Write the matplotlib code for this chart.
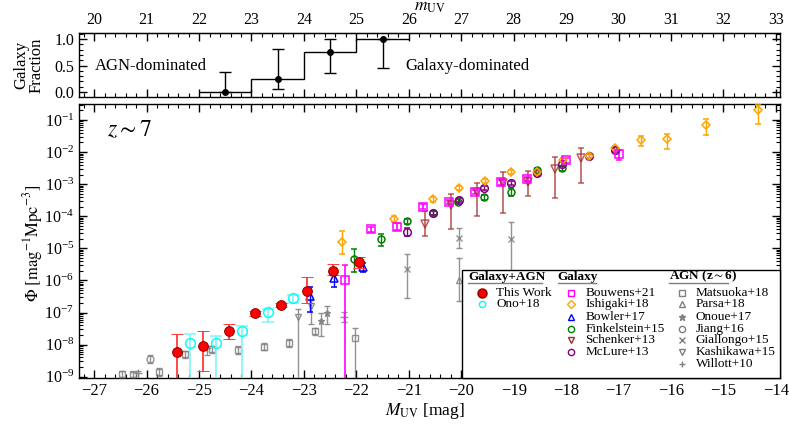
import numpy as np
import matplotlib
matplotlib.use("Agg")
import matplotlib.pyplot as plt
from matplotlib.patches import Rectangle
from matplotlib.ticker import MultipleLocator, LogLocator, NullFormatter

plt.rcParams['font.family'] = ['Liberation Serif', 'DejaVu Serif']
plt.rcParams['mathtext.fontset'] = 'stix'
plt.rcParams['axes.unicode_minus'] = True

# ---- data (M_UV, log10 Phi, lower / upper bound of error bar in log10) ----
# values below -9.03 mean the bar runs off the bottom of the axis
this_M = [-25.42, -24.92, -24.42, -23.94, -23.43, -22.94, -22.44, -21.95]
this_lg = [-8.23, -8.04, -7.59, -7.02, -6.76, -6.32, -5.69, -5.44]
this_lo = [-10.0, -8.81, -7.83, -7.11, -6.83, -6.69, -5.83, -5.62]
this_hi = [-7.68, -7.59, -7.37, -6.94, -6.69, -5.90, -5.49, -5.28]

ono_M = [-25.17, -24.68, -24.18, -23.68, -23.20]
ono_lg = [-7.94, -7.96, -7.56, -6.99, -6.56]
ono_lo = [-10.0, -10.0, -10.0, -7.28, -6.69]
ono_hi = [-7.68, -7.73, -7.42, -6.90, -6.45]

bouwens_M = [-22.22, -21.72, -21.22, -20.73, -20.24, -19.73, -19.24, -18.74, -18.01, -16.99]
bouwens_lg = [-5.98, -4.40, -4.32, -3.70, -3.54, -3.23, -2.94, -2.84, -2.25, -2.07]
bouwens_lo = [-10.0, -4.49, -4.43, -3.78, -3.61, -3.30, -3.01, -2.91, -2.33, -2.25]
bouwens_hi = [-5.52, -4.32, -4.22, -3.63, -3.48, -3.17, -2.88, -2.78, -2.18, -1.93]

ishigaki_M = [-22.28, -21.29, -20.54, -20.05, -19.55, -19.05, -18.56, -18.05, -17.56,
              -17.07, -16.58, -16.08, -15.34, -14.34]
ishigaki_lg = [-4.81, -4.09, -3.47, -3.13, -2.90, -2.63, -2.63, -2.25, -2.12,
               -1.88, -1.62, -1.60, -1.16, -0.69]
ishigaki_lo = [-5.17, -4.19, -3.55, -3.19, -2.96, -2.69, -2.69, -2.31, -2.18,
               -1.94, -1.80, -1.90, -1.47, -1.13]
ishigaki_hi = [-4.46, -4.00, -3.40, -3.07, -2.84, -2.57, -2.57, -2.19, -2.06,
               -1.82, -1.49, -1.45, -0.98, -0.53]

bowler_M = [-22.88, -22.43, -21.88]
bowler_lg = [-6.48, -5.93, -5.57]
bowler_lo = [-6.97, -6.21, -5.74]
bowler_hi = [-6.21, -5.79, -5.45]

finkelstein_M = [-22.04, -21.53, -21.04, -20.54, -20.06, -19.56, -19.06, -18.56, -18.07]
finkelstein_lg = [-5.33, -4.72, -4.16, -3.89, -3.54, -3.41, -3.23, -2.56, -2.51]
finkelstein_lo = [-5.73, -4.93, -4.25, -3.96, -3.61, -3.48, -3.37, -2.64, -2.60]
finkelstein_hi = [-5.01, -4.55, -4.08, -3.82, -3.47, -3.34, -3.11, -2.49, -2.43]

schenker_M = [-20.69, -20.20, -19.70, -19.21, -18.72, -18.21, -17.72]
schenker_lg = [-4.24, -3.66, -3.24, -2.97, -2.94, -2.53, -2.17]
schenker_lo = [-4.60, -4.40, -3.98, -3.91, -3.36, -3.44, -2.95]
schenker_hi = [-3.83, -3.31, -2.97, -2.63, -2.59, -2.16, -1.86]

mclure_M = [-21.04, -20.54, -20.05, -19.56, -19.06, -18.56, -18.07, -17.56, -17.07]
mclure_lg = [-4.48, -3.89, -3.49, -3.11, -2.95, -2.66, -2.37, -2.11, -1.93]
mclure_lo = [-4.62, -3.95, -3.55, -3.17, -3.01, -2.73, -2.43, -2.17, -2.00]
mclure_hi = [-4.36, -3.83, -3.43, -3.05, -2.89, -2.59, -2.31, -2.05, -1.86]

matsuoka_M = [-26.46, -26.26, -25.76, -25.27, -24.76, -24.26, -23.77, -23.28, -22.78, -22.03]
matsuoka_lg = [-8.90, -8.93, -8.84, -8.30, -8.14, -8.17, -8.06, -7.94, -7.59, -7.78]
matsuoka_lo = [-9.00, -9.02, -8.98, -8.42, -8.25, -8.30, -8.16, -8.08, -7.70, -10.0]
matsuoka_hi = [-8.82, -8.86, -8.72, -8.20, -8.04, -8.04, -7.96, -7.82, -7.49, -7.49]

parsa_M = [-20.05]
parsa_lg = [-5.98]
parsa_lo = [-6.63]
parsa_hi = [-5.31]

onoue_M = [-22.68, -22.56]
onoue_lg = [-7.25, -7.00]
onoue_lo = [-7.73, -7.36]
onoue_hi = [-7.00, -6.81]

jiang_M = [-25.93]
jiang_lg = [-8.45]
jiang_lo = [-8.58]
jiang_hi = [-8.32]

giallongo_M = [-21.04, -20.05, -19.05]
giallongo_lg = [-5.65, -4.67, -4.71]
giallongo_lo = [-6.56, -5.00, -6.20]
giallongo_hi = [-5.17, -4.37, -4.17]

kashikawa_M = [-23.12, -22.87]
kashikawa_lg = [-7.13, -6.79]
kashikawa_lo = [-10.0, -7.36]
kashikawa_hi = [-6.90, -6.60]

willott_M = [-26.17, -24.85, -22.24]
willott_lg = [-8.88, -8.12, -7.14]
willott_lo = [-10.0, -8.32, -7.30]
willott_hi = [-8.82, -8.03, -6.99]

# galaxy fraction (top panel), in apparent magnitude
frac_edges_m = [22, 23, 24, 25, 26]
frac_vals = [0.0, 0.25, 0.75, 1.0]
frac_pts_m = [22.5, 23.5, 24.5, 25.5]
frac_pts = [0.0, 0.25, 0.75, 1.0]
frac_lo = [0.0, 0.05, 0.35, 0.45]
frac_hi = [0.38, 0.82, 1.0, 1.0]

dist_mod = 47.0  # m_UV = M_UV + 47


def draw(ax, M, lg, lo, hi, **kw):
    phi = 10.0 ** np.asarray(lg)
    err = [phi - 10.0 ** np.asarray(lo), 10.0 ** np.asarray(hi) - phi]
    ax.errorbar(M, phi, yerr=err, linestyle='none', **kw)


fig = plt.figure(figsize=(7.89, 4.25), dpi=100)
ax = fig.add_axes([0.1001, 0.1113, 0.8885, 0.6433])
axt = fig.add_axes([0.1001, 0.7725, 0.8885, 0.1491], sharex=ax)

grey = dict(color='grey', alpha=0.85, capsize=2.5, elinewidth=1, mew=1, ms=5, mfc='none')

draw(ax, matsuoka_M, matsuoka_lg, matsuoka_lo, matsuoka_hi, marker='s', zorder=3, **grey)
draw(ax, parsa_M, parsa_lg, parsa_lo, parsa_hi, marker='^', zorder=3, **grey)
draw(ax, onoue_M, onoue_lg, onoue_lo, onoue_hi, marker='*', zorder=3,
     **{**grey, 'mfc': 'grey'})
draw(ax, jiang_M, jiang_lg, jiang_lo, jiang_hi, marker='o', zorder=3, **grey)
draw(ax, giallongo_M, giallongo_lg, giallongo_lo, giallongo_hi, marker='x', zorder=3, **grey)
draw(ax, kashikawa_M, kashikawa_lg, kashikawa_lo, kashikawa_hi, marker='v', zorder=3, **grey)
draw(ax, willott_M, willott_lg, willott_lo, willott_hi, marker='+', zorder=3,
     **{**grey, 'ms': 6})

draw(ax, schenker_M, schenker_lg, schenker_lo, schenker_hi, marker='v', color='brown',
     alpha=0.75, ms=5.5, mfc='none', mew=1.1, capsize=2.5, elinewidth=1.2, zorder=4)
draw(ax, finkelstein_M, finkelstein_lg, finkelstein_lo, finkelstein_hi, marker='o',
     color='green', ms=5, mfc='none', mew=1.1, capsize=2.5, elinewidth=1, zorder=4)
draw(ax, mclure_M, mclure_lg, mclure_lo, mclure_hi, marker='o', color='purple',
     ms=5.5, mfc='none', mew=1.1, capsize=2.5, elinewidth=1, zorder=4)
draw(ax, ishigaki_M, ishigaki_lg, ishigaki_lo, ishigaki_hi, marker='D', color='orange',
     ms=4.5, mfc='none', mew=1.1, capsize=2.5, elinewidth=1, zorder=4)
draw(ax, bouwens_M, bouwens_lg, bouwens_lo, bouwens_hi, marker='s', color='magenta',
     ms=5.5, mfc='none', mew=1.1, capsize=2.5, elinewidth=1.2, zorder=4)
draw(ax, bowler_M, bowler_lg, bowler_lo, bowler_hi, marker='^', color='blue',
     ms=5.5, mfc='none', mew=1.1, capsize=2.5, elinewidth=1, zorder=5)
draw(ax, ono_M, ono_lg, ono_lo, ono_hi, marker='o', color='cyan', ecolor='#7ff5f5',
     ms=7, mfc='none', mew=1.1, capsize=4, elinewidth=1.2, zorder=5)
draw(ax, this_M, this_lg, this_lo, this_hi, marker='o', color='red', ecolor='#ff3a3a',
     ms=7, mec='#8b0000', mew=0.7, capsize=4, elinewidth=1.3, zorder=6)

ax.set_yscale('log')
ax.set_xlim(-27.29, -13.92)
ax.set_ylim(10 ** -9.03, 10 ** -0.51)
ax.xaxis.set_major_locator(MultipleLocator(1))
ax.xaxis.set_minor_locator(MultipleLocator(0.2))
ax.yaxis.set_major_locator(LogLocator(base=10, numticks=20))
ax.yaxis.set_minor_locator(LogLocator(base=10, subs=np.arange(2, 10), numticks=20))
ax.yaxis.set_minor_formatter(NullFormatter())
ax.tick_params(which='both', direction='in', top=True, right=True)
ax.tick_params(axis='x', labelsize=12)
ax.tick_params(axis='y', labelsize=11.5)
ax.tick_params(which='major', length=6, width=1)
ax.tick_params(which='minor', length=3, width=0.8)
ax.set_xlabel(r'$M_{\rm UV}$ [mag]', fontsize=12.5)
ax.xaxis.set_label_coords(0.494, -0.085)
ax.set_ylabel(r'$\Phi\ [\mathrm{mag}^{-1}\mathrm{Mpc}^{-3}]$', fontsize=12)
ax.yaxis.set_label_coords(-0.049, 0.49)
ax.text(0.04, 0.905, r'$z\sim7$', transform=ax.transAxes, fontsize=17, va='center')

# ---- hand-made legend box ----
ax.add_patch(Rectangle((0.547, 0.0), 0.453, 0.394, transform=ax.transAxes,
                       facecolor='white', edgecolor='black', lw=1, zorder=10, clip_on=False))
heads = [('Galaxy+AGN', 0.555, 0.661), ('Galaxy', 0.683, 0.737), (r'AGN (z$\sim$6)', 0.842, 0.926)]
for txt, x0, x1 in heads:
    ax.text(x0, 0.370, txt, transform=ax.transAxes, fontsize=9.5, fontweight='bold',
            va='center', ha='left', zorder=12)
    ax.plot([x0, x1], [0.345, 0.345], transform=ax.transAxes, color='grey', lw=1,
            zorder=12, clip_on=False)

rows = [0.311, 0.268, 0.223, 0.179, 0.138, 0.095, 0.049]
entries = [
    (0.5745, 0.595, [('This Work', 'o', 'red', 'red'), ('Ono+18', 'o', 'cyan', 'none')]),
    (0.7019, 0.722, [('Bouwens+21', 's', 'magenta', 'none'), ('Ishigaki+18', 'D', 'orange', 'none'),
                     ('Bowler+17', '^', 'blue', 'none'), ('Finkelstein+15', 'o', 'green', 'none'),
                     ('Schenker+13', 'v', 'brown', 'none'), ('McLure+13', 'o', 'purple', 'none')]),
    (0.8598, 0.880, [('Matsuoka+18', 's', 'grey', 'none'), ('Parsa+18', '^', 'grey', 'none'),
                     ('Onoue+17', '*', 'grey', 'grey'), ('Jiang+16', 'o', 'grey', 'none'),
                     ('Giallongo+15', 'x', 'grey', 'none'), ('Kashikawa+15', 'v', 'grey', 'none'),
                     ('Willott+10', '+', 'grey', 'none')]),
]
for xm, xt, items in entries:
    for yy, (name, mk, col, fc) in zip(rows, items):
        ms = 6.5 if name == 'This Work' else 4.5
        mec = '#8b0000' if name == 'This Work' else col
        ax.plot([xm], [yy], marker=mk, ms=ms, color=col, mfc=fc, mec=mec, mew=1,
                transform=ax.transAxes, clip_on=False, zorder=12, linestyle='none')
        ax.text(xt, yy, name, transform=ax.transAxes, fontsize=9.5, va='center',
                ha='left', zorder=12)

# ---- top panel: galaxy fraction ----
edges_M = np.asarray(frac_edges_m) - dist_mod
pts_M = np.asarray(frac_pts_m) - dist_mod
axt.stairs(frac_vals, edges_M, baseline=None, color='black', lw=1)
fp = np.asarray(frac_pts)
axt.errorbar(pts_M, fp, yerr=[fp - np.asarray(frac_lo), np.asarray(frac_hi) - fp],
             fmt='o', color='black', ms=4, capsize=4, elinewidth=1)
axt.set_ylim(-0.09, 1.11)
axt.yaxis.set_major_locator(MultipleLocator(0.5))
axt.yaxis.set_minor_locator(MultipleLocator(0.1))
axt.yaxis.set_major_formatter(plt.FormatStrFormatter('%.1f'))
axt.tick_params(which='both', direction='in', top=False, right=True, labelbottom=False,
                labelsize=11.5)
axt.tick_params(which='major', length=6, width=1)
axt.tick_params(which='minor', length=3, width=0.8)
axt.set_ylabel('Galaxy\nFraction', fontsize=12, linespacing=0.95)
axt.yaxis.set_label_coords(-0.049, 0.5)
axt.text(-26.98, 0.5, 'AGN-dominated', fontsize=12, va='center', ha='left')
axt.text(-21.07, 0.5, 'Galaxy-dominated', fontsize=12, va='center', ha='left')

sec = axt.secondary_xaxis('top', functions=(lambda M: M + dist_mod, lambda m: m - dist_mod))
sec.xaxis.set_major_locator(MultipleLocator(1))
sec.xaxis.set_minor_locator(MultipleLocator(0.2))
sec.tick_params(which='both', direction='in', labelsize=11.5)
sec.tick_params(which='major', length=6, width=1)
sec.tick_params(which='minor', length=3, width=0.8)
sec.set_xlabel(r'$m_{\rm UV}$', fontsize=12.5, labelpad=1)

for a in (ax, axt):
    for s in a.spines.values():
        s.set_linewidth(1)

fig.savefig('out.png', dpi=100)
